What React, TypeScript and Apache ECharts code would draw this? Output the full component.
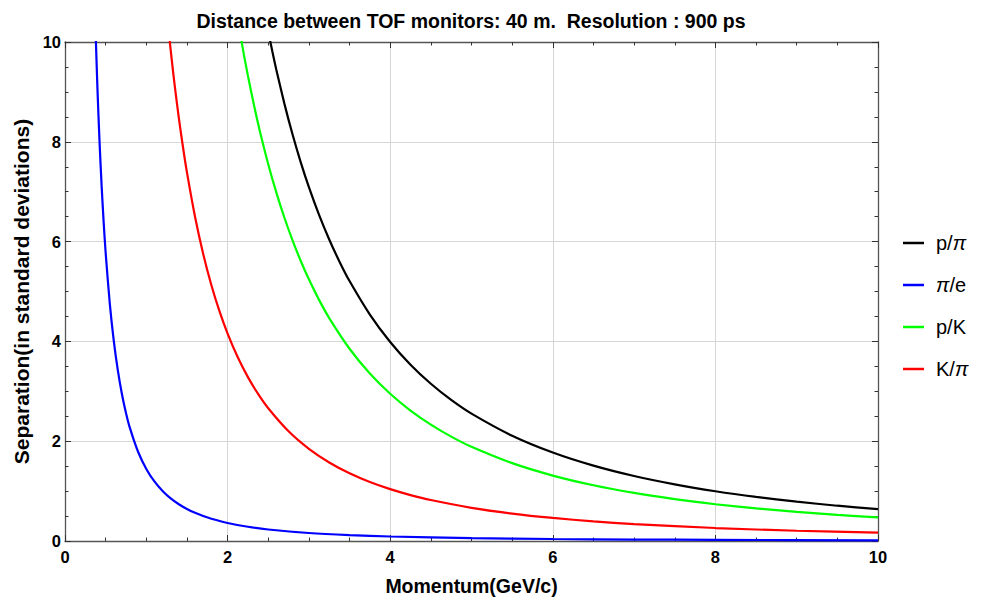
import React, { useEffect, useRef } from "react";
import * as echarts from "echarts";

// Momentum (GeV/c) and separation (standard deviations)
const momentumPPi = [2.5, 2.55, 2.6, 2.7, 2.8, 2.9, 3.0, 3.125, 3.25, 3.375, 3.5, 3.75, 4, 4.25, 4.5, 4.75, 5, 5.5, 6, 6.5, 7, 7.5, 8, 8.5, 9, 9.5, 10];
const sepPPi = [10.211, 9.813, 9.44, 8.755, 8.14, 7.588, 7.091, 6.535, 6.042, 5.603, 5.209, 4.538, 3.989, 3.533, 3.151, 2.828, 2.553, 2.11, 1.773, 1.51, 1.302, 1.135, 0.997, 0.883, 0.788, 0.707, 0.638];

const momentumPiE = [0.375, 0.4, 0.425, 0.45, 0.475, 0.5, 0.55, 0.6, 0.65, 0.7, 0.75, 0.8, 0.9, 1.0, 1.1, 1.2, 1.3, 1.4, 1.5, 1.6, 1.7, 1.8, 2, 2.25, 2.5, 3, 3.5, 4, 5, 6, 7, 8, 10];
const sepPiE = [10.268, 9.025, 7.994, 7.131, 6.4, 5.776, 4.774, 4.011, 3.418, 2.947, 2.567, 2.256, 1.783, 1.444, 1.193, 1.003, 0.854, 0.737, 0.642, 0.564, 0.5, 0.446, 0.361, 0.285, 0.231, 0.16, 0.118, 0.09, 0.058, 0.04, 0.029, 0.023, 0.014];

const momentumPK = [2.15, 2.2, 2.25, 2.325, 2.4, 2.5, 2.6, 2.7, 2.8, 2.9, 3.0, 3.125, 3.25, 3.5, 3.75, 4, 4.25, 4.5, 4.75, 5, 5.5, 6, 6.5, 7, 7.5, 8, 8.5, 9, 9.5, 10];
const sepPK = [10.21, 9.751, 9.322, 8.731, 8.193, 7.551, 6.981, 6.473, 6.02, 5.612, 5.244, 4.832, 4.468, 3.853, 3.356, 2.95, 2.613, 2.331, 2.092, 1.888, 1.56, 1.311, 1.117, 0.963, 0.839, 0.737, 0.653, 0.583, 0.523, 0.472];

const momentumKPi = [1.28, 1.31, 1.35, 1.4, 1.45, 1.5, 1.6, 1.7, 1.8, 1.9, 2.0, 2.125, 2.25, 2.375, 2.5, 2.75, 3.0, 3.25, 3.5, 3.75, 4, 4.25, 4.5, 5, 5.5, 6, 6.5, 7, 8, 9, 10];
const sepKPi = [10.146, 9.686, 9.121, 8.481, 7.906, 7.388, 6.493, 5.752, 5.131, 4.605, 4.156, 3.681, 3.284, 2.947, 2.66, 2.198, 1.847, 1.574, 1.357, 1.182, 1.039, 0.92, 0.821, 0.665, 0.55, 0.462, 0.393, 0.339, 0.26, 0.205, 0.166];

const seriesNames = ["p/π", "π/e", "p/K", "K/π"];
const seriesColors = ["#000000", "#0000ff", "#00ff00", "#ff0000"];
const xTicks = { min: 0, max: 10, interval: 2 };
const yTicks = { min: 0, max: 10, interval: 2 };

const titleText = "Distance between TOF monitors: 40 m.  Resolution : 900 ps";
const xName = "Momentum(GeV/c)";
const yName = "Separation(in standard deviations)";

const FONT = "'Liberation Sans', Arial, Helvetica, sans-serif";

function zip(xs: number[], ys: number[]) {
  return xs.map((x, i) => [x, ys[i]]);
}

export default function App() {
  const ref = useRef<HTMLDivElement>(null);
  useEffect(() => {
    if (!ref.current) return;
    const chart = echarts.init(ref.current, undefined, { renderer: "svg" });
    const allData = [
      zip(momentumPPi, sepPPi),
      zip(momentumPiE, sepPiE),
      zip(momentumPK, sepPK),
      zip(momentumKPi, sepKPi),
    ];
    const frameColor = "#555";
    const labelStyle = {
      color: "#000",
      fontWeight: "bold" as const,
      fontSize: 16.5,
      fontFamily: FONT,
    };
    const baseAxis = () => ({
      type: "value" as const,
      axisLine: { show: true, onZero: false, lineStyle: { color: frameColor, width: 1.3 } },
      axisTick: { show: true, inside: true, length: 6, lineStyle: { color: "#333", width: 1 } },
      minorTick: { show: true, splitNumber: 4, length: 3.5, lineStyle: { color: "#333", width: 1 } },
    });
    chart.setOption({
      animation: false,
      backgroundColor: "#fff",
      title: {
        text: titleText,
        left: 471,
        textAlign: "center",
        top: 9,
        padding: 0,
        textStyle: { fontFamily: FONT, fontWeight: "bold", fontSize: 19.5, color: "#000", lineHeight: 24 },
      },
      grid: { left: 65, right: 103, top: 42, bottom: 57, containLabel: false },
      legend: {
        orient: "vertical",
        left: 903,
        top: 232,
        padding: 0,
        icon: "rect",
        itemWidth: 21,
        itemHeight: 2.5,
        itemGap: 20,
        data: seriesNames,
        formatter: (name: string) => name.replace("π", "{i|π}"),
        textStyle: {
          fontFamily: FONT,
          fontSize: 20,
          color: "#000",
          lineHeight: 22,
          padding: [0, 0, 0, 7],
          rich: { i: { fontStyle: "italic", fontFamily: FONT, fontSize: 20, color: "#000", lineHeight: 22 } },
        },
      },
      xAxis: [
        {
          ...baseAxis(),
          ...xTicks,
          position: "bottom",
          name: xName,
          nameLocation: "middle",
          nameGap: 35,
          nameTextStyle: { fontFamily: FONT, fontWeight: "bold", fontSize: 19.5, color: "#000" },
          axisLabel: { ...labelStyle, margin: 7 },
          splitLine: { show: true, lineStyle: { color: "#d6d6d6", width: 1 } },
        },
        {
          ...baseAxis(),
          ...xTicks,
          position: "top",
          axisLabel: { show: false },
          splitLine: { show: false },
        },
      ],
      yAxis: [
        {
          ...baseAxis(),
          ...yTicks,
          position: "left",
          name: yName,
          nameLocation: "middle",
          nameGap: 28,
          nameTextStyle: { fontFamily: FONT, fontWeight: "bold", fontSize: 21, color: "#000" },
          axisLabel: { ...labelStyle, margin: 4 },
          splitLine: { show: true, lineStyle: { color: "#d6d6d6", width: 1 } },
        },
        {
          ...baseAxis(),
          ...yTicks,
          position: "right",
          axisLabel: { show: false },
          splitLine: { show: false },
        },
      ],
      series: seriesNames.map((name, i) => ({
        name,
        type: "line",
        xAxisIndex: 0,
        yAxisIndex: 0,
        data: allData[i],
        symbol: "none",
        smooth: 0.25,
        clip: true,
        color: seriesColors[i],
        lineStyle: { color: seriesColors[i], width: 2.2 },
      })),
    });
    return () => chart.dispose();
  }, []);
  return (
    <div
      ref={ref}
      style={{ position: "fixed", left: 0, top: 0, width: 981, height: 601, background: "#fff" }}
    />
  );
}
